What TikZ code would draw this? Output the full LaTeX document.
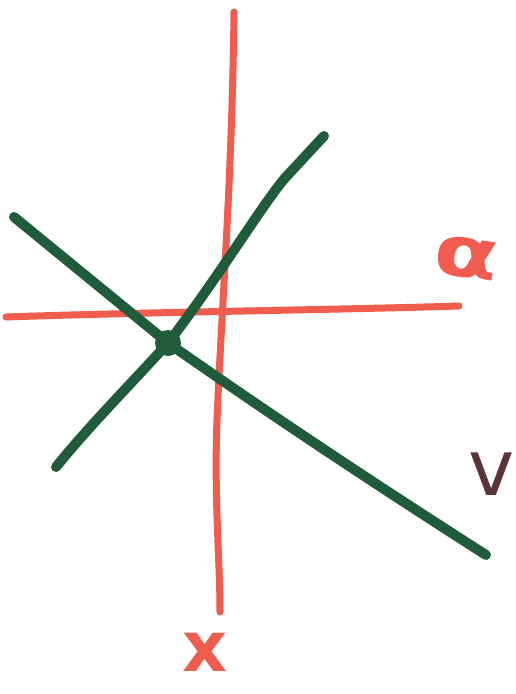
\documentclass[tikz,border=0pt]{standalone}
\usepackage{fontspec}
\setmainfont{DejaVu Sans}
\definecolor{axred}{RGB}{240,92,78}
\definecolor{axgreen}{RGB}{32,92,58}
\definecolor{vbrown}{RGB}{92,52,56}
\begin{document}
\begin{tikzpicture}[x=1pt,y=-1pt,
  redaxis/.style={draw=axred,line width=7pt,line cap=round,line join=round},
  greenaxis/.style={draw=axgreen,line width=10pt,line cap=round,line join=round},
  lbl/.style={inner sep=0pt,font=\bfseries\fontsize{70}{70}\selectfont}]
\useasboundingbox[fill=white] (0,0) rectangle (516,694);
% red axes
\coordinate (vtop) at (234,12);
\coordinate (vbot) at (220,612);
\coordinate (hleft) at (6,317);
\coordinate (hright) at (459,306);
\draw[redaxis] (vtop) .. controls (232,180) and (222,300) .. (217,420) .. controls (214,500) and (220,560) .. (vbot);
\draw[redaxis] (hleft) .. controls (150,312) and (330,310) .. (hright);
% green axes
\coordinate (c) at (168,343);
\coordinate (g1a) at (14,217);
\coordinate (g1b) at (486,555);
\coordinate (g2a) at (56,467);
\coordinate (g2b) at (324,136);
\draw[greenaxis] (g1a) -- (c) .. controls (250,400) and (330,455) .. (g1b);
\draw[greenaxis] (g2a) .. controls (90,425) and (130,385) .. (c) .. controls (220,275) and (262,205) .. (285,178) -- (g2b);
\fill[axgreen] (c) circle (13);
% labels
\node[lbl,text=axred] (xl) at (205,652) {x};
\node[lbl,text=axred,rotate=-8,xscale=1.35] (al) at (466,258) {α};
\node[inner sep=0pt,text=vbrown,font=\fontsize{78}{78}\selectfont] (vl) at (492,474) {v};
\end{tikzpicture}
\end{document}
